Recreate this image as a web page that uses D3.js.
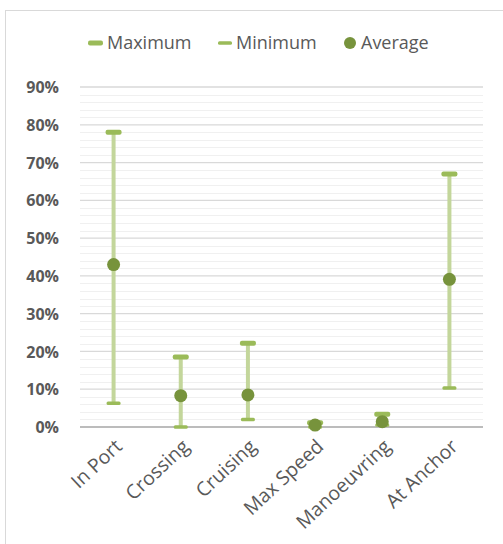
<!DOCTYPE html>
<html>
<head>
<meta charset="utf-8">
<script src="https://cdn.jsdelivr.net/npm/d3@7"></script>
<style>
  html, body { margin: 0; padding: 0; background: #fff; }
  svg { display: block; }
</style>
</head>
<body>
<svg id="chart" width="503" height="544"></svg>
<script>
// Operating modes and their load share (fraction of 1)
const categories = ["In Port", "Crossing", "Cruising", "Max Speed", "Manoeuvring", "At Anchor"];
const maximum = [0.78, 0.185, 0.222, 0.011, 0.034, 0.67];
const minimum = [0.063, 0.0, 0.02, 0.0, 0.005, 0.103];
const average = [0.43, 0.083, 0.085, 0.005, 0.014, 0.391];
const yTicks = [0, 0.1, 0.2, 0.3, 0.4, 0.5, 0.6, 0.7, 0.8, 0.9];
const legendLabels = ["Maximum", "Minimum", "Average"];

const colMax = "#9bbb59";
const colMin = "#9bbb59";
const colStem = "#c3d69b";
const colAvg = "#77933c";
const textCol = "#595959";
const font = "'Open Sans', 'Liberation Sans', sans-serif";

const svg = d3.select("#chart");

// Outer chart frame
svg.append("rect")
  .attr("x", 5.5).attr("y", 10.5)
  .attr("width", 520).attr("height", 560)
  .attr("fill", "none").attr("stroke", "#d9d9d9").attr("stroke-width", 1);

const plot = { left: 80, right: 483, top: 87, bottom: 427 };

const x = d3.scaleBand().domain(categories).range([plot.left, plot.right]);
const y = d3.scaleLinear().domain([0, 0.9]).range([plot.bottom, plot.top]);

// Minor gridlines every 2%
const minor = d3.range(0, 0.9001, 0.02).filter(v => Math.round(v * 100) % 10 !== 0);
svg.append("g").selectAll("line").data(minor).join("line")
  .attr("x1", plot.left).attr("x2", plot.right)
  .attr("y1", d => Math.round(y(d)) + 0.5).attr("y2", d => Math.round(y(d)) + 0.5)
  .attr("stroke", "#f0f0f0").attr("stroke-width", 1);

// Major gridlines
svg.append("g").selectAll("line").data(yTicks.filter(d => d > 0)).join("line")
  .attr("x1", plot.left).attr("x2", plot.right)
  .attr("y1", d => y(d)).attr("y2", d => y(d))
  .attr("stroke", "#d9d9d9").attr("stroke-width", 1.3);

// Y axis labels
const yAxis = d3.axisLeft(y).tickValues(yTicks).tickFormat(d3.format(".0%")).tickSize(0).tickPadding(0);
const gy = svg.append("g").attr("transform", `translate(${plot.left - 21},0)`).call(yAxis);
gy.select(".domain").remove();
gy.selectAll("text")
  .attr("fill", textCol).attr("font-family", font).attr("font-size", 16).attr("font-weight", "bold")
  .attr("dy", "0.35em");

// Baseline
svg.append("line")
  .attr("x1", plot.left).attr("x2", plot.right)
  .attr("y1", y(0)).attr("y2", y(0))
  .attr("stroke", "#a6a6a6").attr("stroke-width", 1.5);

// X axis labels, rotated
const xAxis = d3.axisBottom(x).tickSize(0).tickPadding(0);
const gx = svg.append("g").attr("transform", `translate(0,${plot.bottom})`).call(xAxis);
gx.select(".domain").remove();
gx.selectAll("text")
  .attr("fill", textCol).attr("font-family", font).attr("font-size", 19.5)
  .attr("text-anchor", "end")
  .attr("transform", "translate(5,16) rotate(-43)")
  .attr("dy", "0.35em");

const rows = categories.map((c, i) => ({ c, max: maximum[i], min: minimum[i], avg: average[i] }));
const cx = d => x(d.c) + x.bandwidth() / 2;

const marks = svg.append("g");
// Range stems
marks.selectAll(".stem").data(rows).join("line")
  .attr("x1", cx).attr("x2", cx)
  .attr("y1", d => y(d.max)).attr("y2", d => y(d.min))
  .attr("stroke", colStem).attr("stroke-width", 4);
// Maximum dash
marks.selectAll(".maxm").data(rows).join("rect")
  .attr("x", d => cx(d) - 8).attr("y", d => y(d.max) - 2.5)
  .attr("width", 16).attr("height", 5).attr("rx", 2)
  .attr("fill", colMax);
// Minimum dash
marks.selectAll(".minm").data(rows).join("rect")
  .attr("x", d => cx(d) - 7).attr("y", d => y(d.min) - 1.75)
  .attr("width", 14).attr("height", 3.5).attr("rx", 1.5)
  .attr("fill", colMin);
// Average dot
marks.selectAll(".avg").data(rows).join("circle")
  .attr("cx", cx).attr("cy", d => y(d.avg)).attr("r", 6.5)
  .attr("fill", colAvg);

// Legend
const legend = svg.append("g").attr("font-family", font).attr("font-size", 18).attr("fill", textCol);
const ly = 43;
legend.append("rect").attr("x", 88).attr("y", ly - 2.5).attr("width", 15).attr("height", 5).attr("rx", 2).attr("fill", colMax);
legend.append("text").attr("x", 107).attr("y", ly).attr("dy", "0.35em").text(legendLabels[0]);
legend.append("rect").attr("x", 218).attr("y", ly - 1.75).attr("width", 14).attr("height", 3.5).attr("rx", 1.5).attr("fill", colMin);
legend.append("text").attr("x", 236).attr("y", ly).attr("dy", "0.35em").text(legendLabels[1]);
legend.append("circle").attr("cx", 350).attr("cy", ly).attr("r", 6).attr("fill", colAvg);
legend.append("text").attr("x", 361).attr("y", ly).attr("dy", "0.35em").text(legendLabels[2]);
</script>
</body>
</html>
